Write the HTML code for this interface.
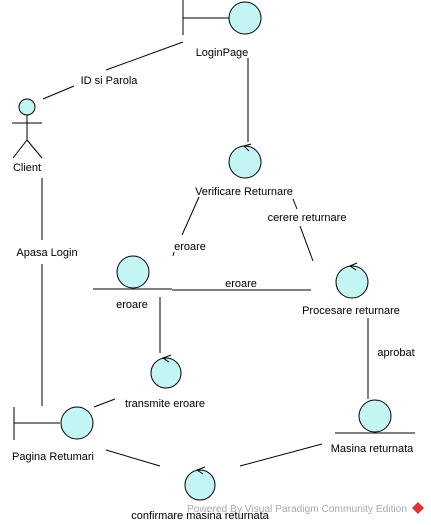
<!DOCTYPE html>
<html><head><meta charset="utf-8"><style>
html,body{margin:0;padding:0;background:#fff;}
svg{display:block;}
text{font-family:"Liberation Sans",sans-serif;font-size:11px;fill:#000;}
</style></head><body>
<svg width="431" height="525" viewBox="0 0 431 525" xmlns="http://www.w3.org/2000/svg">
<g stroke="#000" stroke-width="1" fill="none">
<line x1="183" y1="0" x2="183" y2="35"/>
<line x1="183" y1="18" x2="229" y2="18"/>
<circle cx="245" cy="18" r="16" fill="#c4f5f5"/>
<circle cx="27" cy="107" r="8" fill="#c4f5f5"/>
<line x1="27" y1="115" x2="27" y2="140"/>
<line x1="12" y1="123" x2="42" y2="123"/>
<line x1="27" y1="140" x2="13" y2="158"/>
<line x1="27" y1="140" x2="42" y2="158"/>
<line x1="43" y1="99" x2="74" y2="86"/>
<line x1="106" y1="70" x2="183" y2="42"/>
<line x1="248" y1="58" x2="248" y2="142"/>
<circle cx="245" cy="162" r="16" fill="#c4f5f5"/>
<path d="M251 144 L244 146 L249 151"/>
<line x1="199" y1="197" x2="182" y2="235"/>
<line x1="174" y1="252" x2="173" y2="256"/>
<line x1="293" y1="199" x2="297" y2="209"/>
<line x1="300" y1="226" x2="313" y2="261"/>
<circle cx="133" cy="272" r="16" fill="#c4f5f5"/>
<line x1="93" y1="289" x2="172" y2="289"/>
<line x1="172" y1="290" x2="311" y2="290"/>
<circle cx="352" cy="282" r="16" fill="#c4f5f5"/>
<path d="M357 263 L350 266 L356 270"/>
<line x1="368" y1="318" x2="368" y2="399"/>
<circle cx="375" cy="416" r="16" fill="#c4f5f5"/>
<line x1="335" y1="433" x2="415" y2="433"/>
<line x1="160" y1="297" x2="160" y2="353"/>
<circle cx="166" cy="373" r="15" fill="#c4f5f5"/>
<path d="M171 355 L163 358 L169 362"/>
<line x1="14" y1="407" x2="14" y2="440"/>
<line x1="14" y1="423" x2="60" y2="423"/>
<circle cx="77" cy="423" r="16" fill="#c4f5f5"/>
<line x1="42" y1="178" x2="42" y2="240"/>
<line x1="42" y1="264" x2="42" y2="406"/>
<line x1="94" y1="407" x2="115" y2="399"/>
<circle cx="200" cy="485" r="15" fill="#c4f5f5"/>
<path d="M205 467 L197 470 L203 474"/>
<line x1="106" y1="450" x2="160" y2="466"/>
<line x1="240" y1="466" x2="322" y2="444"/>
</g>
<text x="222" y="56" text-anchor="middle">LoginPage</text>
<text x="27" y="171" text-anchor="middle">Client</text>
<text x="109" y="84" text-anchor="middle">ID si Parola</text>
<text x="244" y="195" text-anchor="middle">Verificare Returnare</text>
<text x="307" y="221" text-anchor="middle">cerere returnare</text>
<text x="190" y="250" text-anchor="middle">eroare</text>
<text x="47" y="256" text-anchor="middle">Apasa Login</text>
<text x="241" y="287" text-anchor="middle">eroare</text>
<text x="132" y="308" text-anchor="middle">eroare</text>
<text x="351" y="314" text-anchor="middle">Procesare returnare</text>
<text x="396" y="356" text-anchor="middle">aprobat</text>
<text x="165" y="407" text-anchor="middle">transmite eroare</text>
<text x="53" y="460" text-anchor="middle">Pagina Retumari</text>
<text x="372" y="452" text-anchor="middle">Masina returnata</text>
<text x="200" y="519" text-anchor="middle">confirmare masina returnata</text>
<text x="187" y="512" style="fill:#aaa;font-size:10px" textLength="220" lengthAdjust="spacingAndGlyphs">Powered By  Visual Paradigm Community Edition</text>
<path d="M418 502 L424 508 L418 514 L412 508 Z" fill="#d33" stroke="none"/>
</svg>
</body></html>
